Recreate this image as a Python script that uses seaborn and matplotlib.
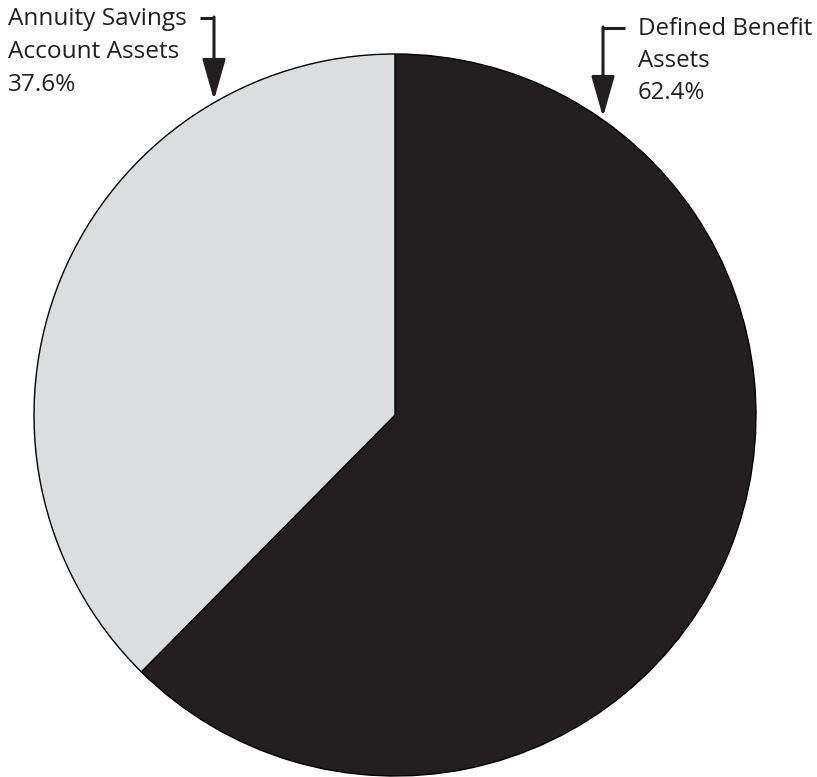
import matplotlib
matplotlib.use("Agg")
import matplotlib.pyplot as plt
import seaborn as sns

# ── Data ──────────────────────────────────────────────────────────────────────
labels  = ["Defined Benefit\nAssets", "Annuity Savings\nAccount Assets"]
shares  = [62.4, 37.6]
colors  = ["#231f20", "#dcdddf"]

sns.set_theme(style="white")
plt.rcParams['font.family'] = ['Open Sans', 'DejaVu Sans']

W, H = 817, 777
fig = plt.figure(figsize=(W / 100, H / 100), dpi=100)
ax = fig.add_axes([0, 0, 1, 1])

# pixel-like coords, y measured from the top
def py(y):
    return H - y

cx, cy, r = 395, 415, 361
ax.pie(shares, colors=colors, startangle=90, counterclock=False,
       center=(cx, py(cy)), radius=r, frame=True,
       wedgeprops=dict(edgecolor='black', linewidth=1.0))
ax.set_xlim(0, W)
ax.set_ylim(0, H)
ax.axis('off')

ink = '#231f20'
arrow_kw = dict(arrowstyle='-|>,head_length=2.1,head_width=0.6', color=ink,
                lw=2.2, shrinkA=0, shrinkB=0)

# Defined Benefit callout (right)
ax.plot([625, 603], [py(28), py(28)], color=ink, lw=2.2, solid_capstyle='butt')
ax.annotate('', xy=(603, py(117)), xytext=(603, py(27)), arrowprops=arrow_kw)
ax.text(638, py(17), f"{labels[0]}\n{shares[0]:.1f}%", ha='left', va='top',
        fontsize=17.3, color=ink, linespacing=1.45)

# Annuity Savings callout (left)
ax.plot([200, 214], [py(18), py(18)], color=ink, lw=2.2, solid_capstyle='butt')
ax.annotate('', xy=(214, py(100)), xytext=(214, py(17)), arrowprops=arrow_kw)
ax.text(8, py(7), f"{labels[1]}\n{shares[1]:.1f}%", ha='left', va='top',
        fontsize=17.6, color=ink, linespacing=1.49)

fig.savefig("out.png", dpi=100)
